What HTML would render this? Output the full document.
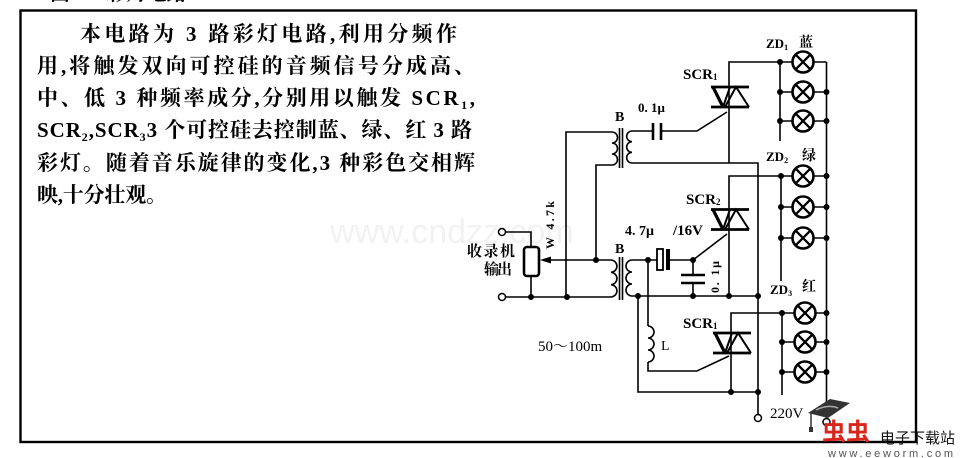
<!DOCTYPE html>
<html><head><meta charset="utf-8"><style>
html,body{margin:0;padding:0;background:#fff;}
svg{display:block;}
.p{font-family:"Liberation Serif","Noto Serif CJK SC",serif;font-size:21px;font-weight:bold;fill:#000;}
.lb{font-family:"Liberation Serif","Noto Serif CJK SC",serif;font-weight:bold;fill:#000;}
.rg{font-family:"Liberation Serif","Noto Serif CJK SC",serif;fill:#000;}
.w{stroke:#000;stroke-width:1.6;fill:none;}
</style></head><body>
<svg width="960" height="458" viewBox="0 0 960 458" xmlns="http://www.w3.org/2000/svg">
<rect x="0" y="0" width="960" height="458" fill="#fff"/>
<defs>
  <g id="lamp">
    <circle cx="0" cy="0" r="10.5" fill="#fff" stroke="#000" stroke-width="2.6"/>
    <path d="M-7.4,-7.4 L7.4,7.4 M7.4,-7.4 L-7.4,7.4" stroke="#000" stroke-width="2.3" fill="none"/>
  </g>
  <g id="triac">
    <path d="M-18,0 H20 M-18,20 H20" stroke="#000" stroke-width="2.8" fill="none"/>
    <path d="M-16,0 L-6,20" stroke="#000" stroke-width="3.2" fill="none"/>
    <path d="M1,0 L-6,20 M-4,20 L7,0 L20,20" stroke="#000" stroke-width="2" fill="none"/>
  </g>
</defs>

<!-- faint watermark -->
<text x="330" y="243" font-family="Liberation Sans, sans-serif" font-size="34" fill="#f2f2f2">www.cndzz.com</text>

<!-- header fragments (cut off) -->
<clipPath id="hc"><rect x="0" y="0" width="960" height="3.5"/></clipPath>
<text x="50" y="0" class="lb" font-size="20" clip-path="url(#hc)">图 2-3  彩灯电路</text>

<!-- frame -->
<rect x="20.5" y="10.5" width="895.5" height="431.5" fill="none" stroke="#000" stroke-width="2.4"/>

<!-- paragraph -->
<text class="p" x="80" y="41" textLength="377" lengthAdjust="spacing">本电路为 3 路彩灯电路,利用分频作</text>
<text class="p" x="37" y="73" textLength="438" lengthAdjust="spacing">用,将触发双向可控硅的音频信号分成高、</text>
<text class="p" x="37" y="105" textLength="438" lengthAdjust="spacing">中、低 3 种频率成分,分别用以触发 SCR<tspan font-size="12" dy="4">1</tspan><tspan dy="-4">,</tspan></text>
<text class="p" x="37" y="137" textLength="435" lengthAdjust="spacing">SCR<tspan font-size="12" dy="4">2</tspan><tspan dy="-4">,SCR</tspan><tspan font-size="12" dy="4">3</tspan><tspan dy="-4">3 个可控硅去控制蓝、绿、红 3 路</tspan></text>
<text class="p" x="37" y="170" textLength="438" lengthAdjust="spacing">彩灯。随着音乐旋律的变化,3 种彩色交相辉</text>
<text class="p" x="37" y="202" textLength="130" lengthAdjust="spacing">映,十分壮观。</text>

<!-- wires -->
<g class="w">
  <path d="M612,132 H566 V297"/>
  <path d="M612,165 H596 V260"/>
  <path d="M505.5,297 H611"/>
  <path d="M505.5,232 H531 V247"/>
  <path d="M531,276 V297"/>
  <path d="M550,260 H611"/>
  <path d="M632,131 H653"/>
  <path d="M661,131 H697 L727,112"/>
  <path d="M632,163 H758 V414.5"/>
  <path d="M729,163 V62 H780"/>
  <path d="M632,260 H657"/>
  <path d="M670,260 H693 V275"/>
  <path d="M693,283 V296"/>
  <path d="M632,296 H758"/>
  <path d="M729,296 V176 H781"/>
  <path d="M693,260 L727,234"/>
  <path d="M648,260 V326"/>
  <path d="M648,362 V371 H697 L729,356"/>
  <path d="M638,296 V392 H758"/>
  <path d="M731,392 V313 H782"/>
  <path d="M780,62 V141"/>
  <path d="M781,176 V281"/>
  <path d="M782,313 V395"/>
  <path d="M826.5,62 V418.5"/>
  <!-- lamp leads -->
  <path d="M780,62 H826.5 M780,92 H826.5 M780,121 H826.5"/>
  <path d="M781,176 H826.5 M781,207 H826.5 M781,238 H826.5"/>
  <path d="M782,313 H826.5 M782,342 H826.5 M782,372 H826.5"/>
  <!-- coils -->
  <path d="M612,132 a5.5,5.5 0 0 1 0,11 a5.5,5.5 0 0 1 0,11 a5.5,5.5 0 0 1 0,11"/>
  <path d="M632,131 a5.33,5.33 0 0 0 0,10.67 a5.33,5.33 0 0 0 0,10.67 a5.33,5.33 0 0 0 0,10.67"/>
  <path d="M611,260 a6.17,6.17 0 0 1 0,12.33 a6.17,6.17 0 0 1 0,12.33 a6.17,6.17 0 0 1 0,12.33"/>
  <path d="M632,260 a6,6 0 0 0 0,12 a6,6 0 0 0 0,12 a6,6 0 0 0 0,12"/>
  <path d="M648,326 a6,6 0 0 1 0,12 a6,6 0 0 1 0,12 a6,6 0 0 1 0,12"/>
  <!-- cores -->
  <path d="M619.5,128 V168 M622.5,128 V168"/>
  <path d="M619.5,257 V300 M622.5,257 V300"/>
</g>

<!-- capacitors -->
<path d="M653,123 V140 M661,123 V140" stroke="#000" stroke-width="2.6"/>
<rect x="657" y="249" width="6" height="21" fill="#fff" stroke="#000" stroke-width="1.8"/>
<rect x="666" y="249" width="4" height="21" fill="#000"/>
<path d="M681,275 H705 M681,283 H705" stroke="#000" stroke-width="2.6"/>

<!-- potentiometer -->
<rect x="524" y="247" width="15" height="29" rx="3" fill="#fff" stroke="#000" stroke-width="2.6"/>
<polygon points="540,260 551,256.5 551,263.5" fill="#000"/>

<!-- triacs -->
<use href="#triac" x="729" y="87"/>
<use href="#triac" x="729" y="209.5"/>
<use href="#triac" x="731" y="333"/>

<!-- lamps -->
<use href="#lamp" x="803" y="62"/>
<use href="#lamp" x="803" y="92"/>
<use href="#lamp" x="803" y="121"/>
<use href="#lamp" x="803" y="176"/>
<use href="#lamp" x="803" y="207"/>
<use href="#lamp" x="803" y="238"/>
<use href="#lamp" x="805" y="313"/>
<use href="#lamp" x="805" y="342"/>
<use href="#lamp" x="805" y="372"/>

<!-- dots -->
<g fill="#000">
  <circle cx="531" cy="297" r="3"/>
  <circle cx="567" cy="297" r="3"/>
  <circle cx="596" cy="260" r="3"/>
  <circle cx="648" cy="260" r="3"/>
  <circle cx="693" cy="260" r="3"/>
  <circle cx="638" cy="296" r="3"/>
  <circle cx="693" cy="296" r="3"/>
  <circle cx="729" cy="296" r="3"/>
  <circle cx="758" cy="296" r="3"/>
  <circle cx="731" cy="392" r="3"/>
  <circle cx="758" cy="392" r="3"/>
  <circle cx="780" cy="62" r="3"/>
  <circle cx="780" cy="92" r="3"/>
  <circle cx="780" cy="121" r="3"/>
  <circle cx="781" cy="176" r="3"/>
  <circle cx="781" cy="207" r="3"/>
  <circle cx="781" cy="238" r="3"/>
  <circle cx="782" cy="313" r="3"/>
  <circle cx="782" cy="342" r="3"/>
  <circle cx="782" cy="372" r="3"/>
  <circle cx="826.5" cy="92" r="3"/>
  <circle cx="826.5" cy="121" r="3"/>
  <circle cx="826.5" cy="176" r="3"/>
  <circle cx="826.5" cy="207" r="3"/>
  <circle cx="826.5" cy="238" r="3"/>
  <circle cx="826.5" cy="313" r="3"/>
  <circle cx="826.5" cy="342" r="3"/>
  <circle cx="826.5" cy="372" r="3"/>
</g>

<!-- terminals -->
<g fill="#fff" stroke="#000" stroke-width="1.5">
  <circle cx="502" cy="232" r="3.5"/>
  <circle cx="502" cy="297" r="3.5"/>
  <circle cx="758" cy="418" r="3.5"/>
  <circle cx="826.5" cy="422" r="3.5"/>
</g>

<!-- labels -->
<text class="lb" x="683" y="79" font-size="15">SCR<tspan font-size="9" dy="1">1</tspan></text>
<text class="lb" x="638" y="112" font-size="13">0. 1μ</text>
<text class="lb" x="615" y="121" font-size="14">B</text>
<text class="lb" x="686" y="204" font-size="15">SCR<tspan font-size="9" dy="1">2</tspan></text>
<text class="lb" x="625" y="235" font-size="14">4. 7μ</text>
<text class="lb" x="673" y="235" font-size="15">/16V</text>
<text class="lb" x="615" y="253" font-size="14">B</text>
<text class="lb" font-size="12" text-anchor="middle" transform="translate(719,277) rotate(-90)" textLength="32" lengthAdjust="spacing">0. 1μ</text>
<text class="lb" x="683" y="328" font-size="15">SCR<tspan font-size="9" dy="1">1</tspan></text>
<text class="rg" x="661" y="350" font-size="14">L</text>
<text class="lb" x="766" y="48" font-size="13">ZD<tspan font-size="8" dy="2">1</tspan></text>
<text class="lb" x="799" y="47" font-size="14">蓝</text>
<text class="lb" x="766" y="161" font-size="13">ZD<tspan font-size="8" dy="2">2</tspan></text>
<text class="lb" x="802" y="160" font-size="14">绿</text>
<text class="lb" x="770" y="294" font-size="13">ZD<tspan font-size="8" dy="2">3</tspan></text>
<text class="lb" x="802" y="291" font-size="14">红</text>
<text class="rg" x="770" y="418" font-size="15">220V</text>
<text class="rg" x="538" y="351" font-size="15">50～100m</text>
<text class="lb" x="467" y="256" font-size="15" textLength="48" lengthAdjust="spacing">收录机</text>
<text class="lb" x="484" y="274" font-size="15" textLength="28" lengthAdjust="spacing">输出</text>
<text class="lb" font-size="12" text-anchor="middle" transform="translate(554,225) rotate(-90)" textLength="48" lengthAdjust="spacing">W 4.7k</text>

<!-- bottom-right logo watermark -->
<polygon points="808,413 830,399 850,403 828,418" fill="#333"/>
<path d="M816,410 Q828,404 838,408" stroke="#aaa" stroke-width="1.5" fill="none"/>
<path d="M811,413 V428" stroke="#333" stroke-width="1.5"/>
<rect x="809" y="427" width="4" height="5" fill="#333"/>
<text x="822" y="440" font-family="Liberation Sans, 'Noto Sans CJK SC', sans-serif" font-size="24" font-weight="bold" fill="#d8261c">虫虫</text>
<text x="880" y="443" font-family="Liberation Sans, 'Noto Sans CJK SC', sans-serif" font-size="15" fill="#111" textLength="75" lengthAdjust="spacing">电子下载站</text>
<text x="828" y="457" font-family="Liberation Sans, sans-serif" font-size="11" fill="#555" textLength="125" lengthAdjust="spacing">www.eeworm.com</text>
</svg>
</body></html>
